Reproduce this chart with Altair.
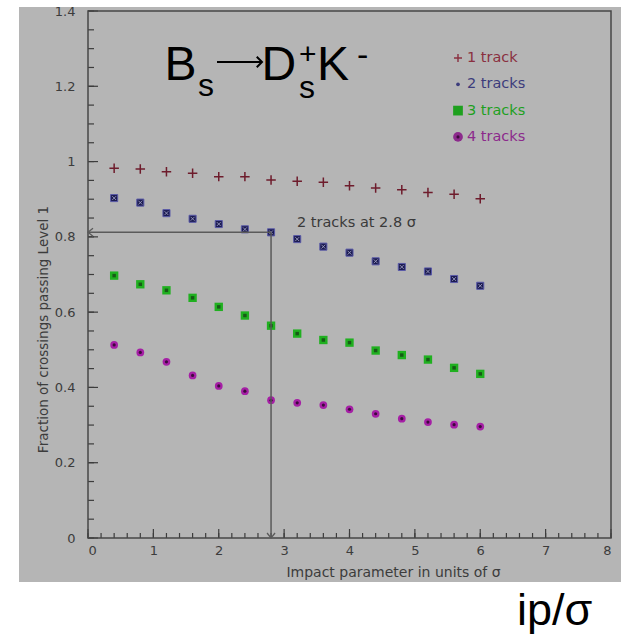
import altair as alt
import pandas as pd

# Impact-parameter cut (in units of sigma) and fraction of crossings passing Level 1
ip_cut = [0.4, 0.8, 1.2, 1.6, 2.0, 2.4, 2.8, 3.2, 3.6, 4.0, 4.4, 4.8, 5.2, 5.6, 6.0]
one_track = [0.982, 0.980, 0.973, 0.969, 0.960, 0.960, 0.951, 0.948, 0.945, 0.936,
             0.930, 0.925, 0.918, 0.913, 0.901]
two_tracks = [0.903, 0.891, 0.863, 0.848, 0.834, 0.820, 0.812, 0.794, 0.774, 0.758,
              0.735, 0.720, 0.708, 0.688, 0.670]
three_tracks = [0.697, 0.674, 0.658, 0.638, 0.614, 0.591, 0.564, 0.543, 0.526, 0.519,
                0.498, 0.486, 0.474, 0.452, 0.436]
four_tracks = [0.513, 0.493, 0.468, 0.432, 0.404, 0.390, 0.366, 0.359, 0.353, 0.342,
               0.330, 0.317, 0.308, 0.301, 0.296]
series_names = ["1 track", "2 tracks", "3 tracks", "4 tracks"]

# working point marked on the plot
marked_ip = 2.8
marked_frac = two_tracks[ip_cut.index(marked_ip)]

x_major = [0, 1, 2, 3, 4, 5, 6, 7, 8]
x_minor = [round(i * 0.2, 2) for i in range(41)]
y_major = [0, 0.2, 0.4, 0.6, 0.8, 1.0, 1.2, 1.4]
y_minor = [round(i * 0.05, 2) for i in range(29)]

W, H = 523, 527
FONT = "DejaVu Sans"
AXIS_COL = "#3c3c3c"

xs = alt.Scale(domain=[0, 8], nice=False, zero=False)
ys = alt.Scale(domain=[0, 1.4], nice=False, zero=False)
X_AX = alt.Axis(values=x_major, format="d", title="Impact parameter in units of σ",
                titleX=305, titleY=38, titleAlign="center", titleBaseline="alphabetic",
                titleFontSize=14, labelPadding=6, zindex=2)
Y_AX = alt.Axis(values=y_major, format="~g", title="Fraction of crossings passing Level 1",
                titleX=-45, titleY=318, titleAlign="center", titleBaseline="middle",
                titleFontSize=13.5, labelPadding=13, zindex=2)


def X(field):
    return alt.X(field, scale=xs, axis=X_AX)


def Y(field):
    return alt.Y(field, scale=ys, axis=Y_AX)


def frame_df(values):
    return pd.DataFrame({"ip": ip_cut, "frac": values})


def one():
    return pd.DataFrame({"k": [0]})


# grey panel behind the plot
panel = alt.Chart(one()).mark_rect(color="#b5b5b5").encode(
    x=alt.value(-69), x2=alt.value(533), y=alt.value(-4), y2=alt.value(571)
)

# series 1: thin plus markers
plus_path = "M-1,0L1,0M0,-1L0,1"
s1 = alt.Chart(frame_df(one_track)).mark_point(
    shape=plus_path, filled=False, stroke="#6e1c2c", strokeWidth=1.5, size=90, opacity=1
).encode(x=X("ip:Q"), y=Y("frac:Q"))

# series 2: dark squares with a pale cross inside
s2a = alt.Chart(frame_df(two_tracks)).mark_point(
    shape="square", filled=True, fill="#1c1c52", stroke="#5a5aa8", strokeWidth=1,
    size=50, opacity=1
).encode(x=X("ip:Q"), y=Y("frac:Q"))
s2b = alt.Chart(frame_df(two_tracks)).mark_point(
    shape="M-0.55,-0.55L0.55,0.55M-0.55,0.55L0.55,-0.55", filled=False,
    stroke="#a8a8c8", strokeWidth=0.8, size=50, opacity=1
).encode(x=X("ip:Q"), y=Y("frac:Q"))

# series 3: green squares with dark centre
s3a = alt.Chart(frame_df(three_tracks)).mark_point(
    shape="square", filled=True, fill="#20b020", size=70, opacity=1
).encode(x=X("ip:Q"), y=Y("frac:Q"))
s3b = alt.Chart(frame_df(three_tracks)).mark_point(
    shape="square", filled=True, fill="#175a17", size=12, opacity=1
).encode(x=X("ip:Q"), y=Y("frac:Q"))

# series 4: purple dots with dark centre
s4a = alt.Chart(frame_df(four_tracks)).mark_point(
    shape="circle", filled=True, fill="#a51fa5", size=60, opacity=1
).encode(x=X("ip:Q"), y=Y("frac:Q"))
s4b = alt.Chart(frame_df(four_tracks)).mark_point(
    shape="circle", filled=True, fill="#3c0a3c", size=10, opacity=1
).encode(x=X("ip:Q"), y=Y("frac:Q"))

# inward tick marks
TICK = "#3c3c3c"
xt_major = alt.Chart(pd.DataFrame({"ip": x_major})).mark_rule(color=TICK, strokeWidth=1.2).encode(
    x=X("ip:Q"), y=alt.value(H), y2=alt.value(H - 9))
xt_minor = alt.Chart(pd.DataFrame({"ip": x_minor})).mark_rule(color=TICK, strokeWidth=1.2).encode(
    x=X("ip:Q"), y=alt.value(H), y2=alt.value(H - 5))
yt_major = alt.Chart(pd.DataFrame({"frac": y_major})).mark_rule(color=TICK, strokeWidth=1.2).encode(
    y=Y("frac:Q"), x=alt.value(0), x2=alt.value(10))
yt_minor = alt.Chart(pd.DataFrame({"frac": y_minor})).mark_rule(color=TICK, strokeWidth=1.2).encode(
    y=Y("frac:Q"), x=alt.value(0), x2=alt.value(6))

# plot frame
frame = alt.Chart(one()).mark_rect(
    filled=False, stroke="#474747", strokeWidth=1.5
).encode(x=alt.value(0), x2=alt.value(W), y=alt.value(0), y2=alt.value(H))

# arrows marking the 2-track efficiency at the chosen cut
ARROW = "#5a5a5a"
h_line = alt.Chart(pd.DataFrame({"ip": [0.0], "ip2": [marked_ip], "frac": [marked_frac]})).mark_rule(
    color=ARROW, strokeWidth=1.5).encode(x=X("ip:Q"), x2="ip2:Q", y=Y("frac:Q"))
v_line = alt.Chart(pd.DataFrame({"ip": [marked_ip], "frac": [marked_frac], "frac2": [0.0]})).mark_rule(
    color=ARROW, strokeWidth=1.5).encode(x=X("ip:Q"), y=Y("frac:Q"), y2="frac2:Q")
h_head = alt.Chart(pd.DataFrame({"ip": [0.0], "frac": [marked_frac]})).mark_point(
    shape="M1,-0.8L0,0L1,0.8", filled=False, stroke=ARROW, strokeWidth=1.3, size=100, opacity=1
).encode(x=X("ip:Q"), y=Y("frac:Q"))
v_head = alt.Chart(pd.DataFrame({"ip": [marked_ip], "frac": [0.0]})).mark_point(
    shape="M-0.8,-1L0,0L0.8,-1", filled=False, stroke=ARROW, strokeWidth=1.3, size=100, opacity=1
).encode(x=X("ip:Q"), y=Y("frac:Q"))

note = alt.Chart(one()).mark_text(
    text=f"2 tracks at {marked_ip} σ", align="left", baseline="middle",
    font=FONT, fontSize=14.5, color="#3a3a3a"
).encode(x=alt.value(209), y=alt.value(212))

# legend block
legend_cols = ["#8a3040", "#3c3c7c", "#1ea01e", "#8c2a8c"]
legend_layers = []
for i, (name, col) in enumerate(zip(series_names, legend_cols)):
    ly = 47 + i * 26.3
    legend_layers.append(
        alt.Chart(one()).mark_text(
            text=name, align="left", baseline="middle", font=FONT, fontSize=14.5, color=col
        ).encode(x=alt.value(379), y=alt.value(ly))
    )
legend_layers += [
    alt.Chart(one()).mark_point(
        shape=plus_path, filled=False, stroke="#8a3040", strokeWidth=1.4, size=64, opacity=1
    ).encode(x=alt.value(370), y=alt.value(47)),
    alt.Chart(one()).mark_point(
        shape="circle", filled=True, fill="#3c3c7c", size=14, opacity=1
    ).encode(x=alt.value(370), y=alt.value(47 + 26.3)),
    alt.Chart(one()).mark_point(
        shape="square", filled=True, fill="#1ea01e", size=95, opacity=1
    ).encode(x=alt.value(370), y=alt.value(47 + 2 * 26.3)),
    alt.Chart(one()).mark_point(
        shape="circle", filled=True, fill="#8c2a8c", size=95, opacity=1
    ).encode(x=alt.value(370), y=alt.value(47 + 3 * 26.3)),
    alt.Chart(one()).mark_point(
        shape="circle", filled=True, fill="#3c0a3c", size=10, opacity=1
    ).encode(x=alt.value(370), y=alt.value(47 + 3 * 26.3)),
]

# decay label B_s -> D+_s K-
TF = "Liberation Sans"
decay_parts = [
    ("B", 76.5, 69, 48),
    ("s", 110, 85, 32),
    ("D", 173.5, 69, 48),
    ("+", 211, 53, 30),
    ("s", 211, 87, 32),
    ("K", 229, 69, 48),
    ("-", 269, 55, 34),
]
decay_layers = [
    alt.Chart(one()).mark_text(
        text=t, align="left", baseline="alphabetic", font=TF, fontSize=fs, color="#000000"
    ).encode(x=alt.value(px), y=alt.value(py))
    for t, px, py, fs in decay_parts
]
# the reaction arrow between B_s and D
decay_arrow = [
    alt.Chart(one()).mark_rule(color="#000000", strokeWidth=2).encode(
        x=alt.value(129), x2=alt.value(173), y=alt.value(51)),
    alt.Chart(one()).mark_point(
        shape="M-1,-1L0,0L-1,1", filled=False, stroke="#000000", strokeWidth=2,
        size=110, opacity=1
    ).encode(x=alt.value(174), y=alt.value(51)),
]

big_label = alt.Chart(one()).mark_text(
    text="ip/σ", align="left", baseline="alphabetic", font=TF, fontSize=45, color="#000000"
).encode(x=alt.value(429), y=alt.value(614))

chart = alt.layer(
    panel, s1, s2a, s2b, s3a, s3b, s4a, s4b,
    xt_minor, xt_major, yt_minor, yt_major, frame,
    h_line, v_line, h_head, v_head, note,
    *legend_layers, *decay_layers, *decay_arrow, big_label
).properties(
    width=W, height=H,
    padding={"left": 88, "top": 11, "right": 10, "bottom": 97},
    autosize=alt.AutoSizeParams(type="none"),
    background="#ffffff",
).configure_view(stroke=None).configure_axis(
    domain=False, ticks=False, grid=False,
    labelFont=FONT, labelFontSize=13, labelColor=AXIS_COL,
    titleFont=FONT, titleFontSize=13, titleFontWeight="normal", titleColor=AXIS_COL,
)

chart.save("out.html", embed_options={"renderer": "svg", "actions": False})
